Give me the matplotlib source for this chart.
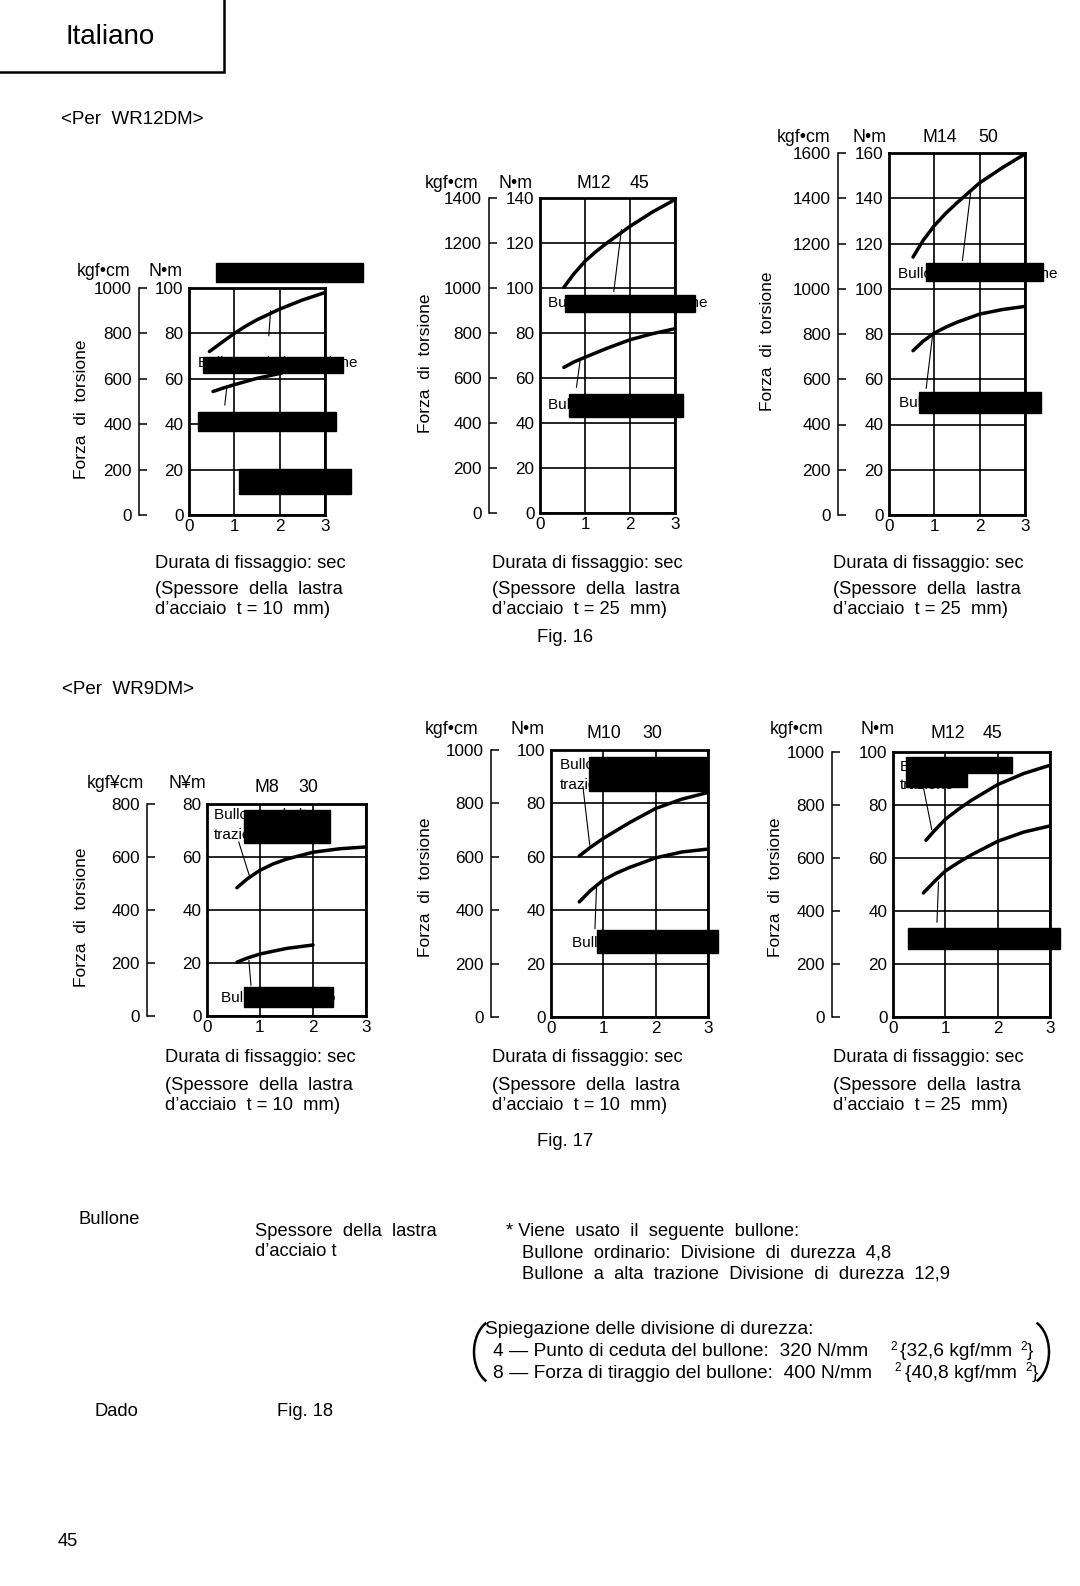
import matplotlib
matplotlib.use("Agg")
import matplotlib.pyplot as plt
from matplotlib.patches import Rectangle, Arc

plt.rcParams['font.family'] = ['Liberation Sans', 'DejaVu Sans']

W, H = 1080, 1586
FS = 13.2  # testo del manuale

# Durata di fissaggio (sec)
t_ticks = [0, 1, 2, 3]

# Fig. 16 - WR12DM, coppia in N·m
a_hi_t = [0.45, 0.75, 1, 1.25, 1.5, 2, 2.5, 3]
a_hi_nm = [72, 76.4, 80, 83.2, 86, 90.7, 94.7, 98]
a_lo_t = [0.53, 0.75, 1, 1.5, 2.04]
a_lo_nm = [54.4, 55.9, 57.4, 60.2, 62.5]

b_hi_t = [0.53, 0.75, 1, 1.25, 1.5, 2, 2.5, 3]
b_hi_nm = [100.3, 106.2, 111.9, 116.3, 120.2, 127.4, 133.8, 139.3]
b_lo_t = [0.53, 0.75, 1, 1.5, 2, 2.5, 3]
b_lo_nm = [64.7, 67.1, 69.2, 73.3, 77, 79.7, 81.9]

c_hi_t = [0.53, 0.75, 1, 1.25, 1.5, 2, 2.5, 3]
c_hi_nm = [114, 121.3, 127.9, 133.3, 138, 146.8, 153.5, 159.6]
c_lo_t = [0.53, 0.75, 1, 1.25, 1.5, 2, 2.5, 3]
c_lo_nm = [72.6, 76.8, 80.4, 83.0, 85.2, 88.8, 90.8, 92.2]

# Fig. 17 - WR9DM
d_hi_t = [0.565, 0.75, 1, 1.25, 1.5, 2, 2.5, 3]
d_hi_nm = [48.4, 51.6, 55, 57.4, 59.2, 61.8, 63.1, 63.8]
d_lo_t = [0.565, 0.75, 1, 1.5, 2]
d_lo_nm = [20.3, 21.8, 23.4, 25.5, 26.8]

e_hi_t = [0.54, 0.75, 1, 1.5, 2, 2.5, 3]
e_hi_nm = [60.3, 63.5, 66.9, 72.8, 78.1, 81.6, 84.1]
e_lo_t = [0.54, 0.75, 1, 1.25, 1.5, 2, 2.5, 3]
e_lo_nm = [43.1, 47.3, 51.3, 53.9, 56.0, 59.6, 61.8, 62.9]

f_hi_t = [0.63, 0.8, 1, 1.25, 1.5, 2, 2.5, 3]
f_hi_nm = [66.7, 70.5, 74.6, 78.4, 81.8, 87.7, 91.9, 95]
f_lo_t = [0.58, 0.8, 1, 1.25, 1.5, 2, 2.5, 3]
f_lo_nm = [46.8, 51.3, 55.1, 58.3, 61.2, 66.3, 69.8, 72.1]

y_max = [100, 140, 160, 80, 100, 100]
bolt = [None, ("M12", "45"), ("M14", "50"), ("M8", "30"), ("M10", "30"), ("M12", "45")]
unit_kgf = ["kgf•cm", "kgf•cm", "kgf•cm", "kgf¥cm", "kgf•cm", "kgf•cm"]
unit_nm = ["N•m", "N•m", "N•m", "N¥m", "N•m", "N•m"]

curves = [
    [(a_hi_t, a_hi_nm), (a_lo_t, a_lo_nm)],
    [(b_hi_t, b_hi_nm), (b_lo_t, b_lo_nm)],
    [(c_hi_t, c_hi_nm), (c_lo_t, c_lo_nm)],
    [(d_hi_t, d_hi_nm), (d_lo_t, d_lo_nm)],
    [(e_hi_t, e_hi_nm), (e_lo_t, e_lo_nm)],
    [(f_hi_t, f_hi_nm), (f_lo_t, f_lo_nm)],
]

# impaginazione in pixel: box assi, asse kgf, intestazioni, etichette
layout = [
    dict(box=(189, 288, 325, 515), spine=139, head=(271, 77, 148, None, None), forza=(82, 409),
         leaders=[((1.8, 90), (1.76, 79)), ((0.83, 55.5), (0.79, 48.5))],
         labels=[("Bullone ad alta trazione", 198, 363)],
         redact=[(216, 263, 363, 282), (203, 357, 343, 373), (198, 412, 336, 431), (239, 469, 351, 494)]),
    dict(box=(540, 198, 675, 513), spine=489, head=(183, 425, 499, 576, 630), forza=(425, 363),
         leaders=[((1.81, 126), (1.64, 98.5)), ((0.89, 67.4), (0.81, 55.9))],
         labels=[("Bullone ad alta trazione", 548, 303), ("Bullone ordinario", 548, 405)],
         redact=[(565, 295, 695, 312), (569, 394, 683, 417)]),
    dict(box=(889, 153, 1025, 515), spine=838, head=(138, 777, 852, 923, 978), forza=(767, 341),
         leaders=[((1.8, 142.3), (1.62, 112.5)), ((0.96, 79.2), (0.82, 56))],
         labels=[("Bullone ad alta trazione", 898, 274), ("Bullone ordinario", 899, 403)],
         redact=[(926, 263, 1043, 281), (919, 392, 1041, 413)]),
    dict(box=(207, 804, 366, 1016), spine=147, head=(783, 87, 168, 255, 298), forza=(82, 917),
         leaders=[((0.8, 52.9), (0.6, 65.6)), ((0.79, 20.9), (0.83, 11.6))],
         labels=[("Bullone ad alta", 214, 815), ("trazione", 214, 835), ("Bullone ordinario", 221, 998)],
         redact=[(244, 810, 330, 843), (244, 987, 333, 1007)]),
    dict(box=(551, 750, 708, 1017), spine=491, head=(729, 425, 510, 587, 642), forza=(426, 887),
         leaders=[((0.74, 64.4), (0.61, 86.3)), ((0.87, 48.8), (0.84, 33.1))],
         labels=[("Bullone ad alta", 560, 765), ("trazione", 560, 785), ("Bullone ordinario", 572, 943)],
         redact=[(589, 757, 707, 791), (597, 930, 718, 953)]),
    dict(box=(893, 752, 1050, 1017), spine=832, head=(729, 770, 860, 930, 983), forza=(775, 887),
         leaders=[((0.74, 70.8), (0.58, 86.8)), ((0.87, 50.9), (0.84, 35.8))],
         labels=[("Bullone ad alta", 900, 767), ("trazione", 900, 785)],
         redact=[(906, 757, 1012, 773), (906, 773, 967, 787), (908, 928, 1060, 949)]),
]

fig = plt.figure(figsize=(W / 100, H / 100), dpi=100)

ov = fig.add_axes([0, 0, 1, 1])
ov.set_xlim(0, W)
ov.set_ylim(H, 0)
ov.axis('off')
ov.set_zorder(10)
ov.patch.set_visible(False)

for i, lay in enumerate(layout):
    l, t, r, b = lay['box']
    ax = fig.add_axes([l / W, 1 - b / H, (r - l) / W, (b - t) / H])
    for tt, nm in curves[i]:
        ax.plot(tt, nm, color='black', lw=2.5, solid_capstyle='round', solid_joinstyle='round')
    for (x0, y0), (x1, y1) in lay['leaders']:
        ax.plot([x0, x1], [y0, y1], color='black', lw=0.8)
    ax.set_xlim(0, 3)
    ax.set_ylim(0, y_max[i])
    ax.set_xticks(t_ticks)
    ax.set_yticks(range(0, y_max[i] + 1, 20))
    ax.grid(True, color='black', lw=1.2)
    ax.set_axisbelow(True)
    for s in ax.spines.values():
        s.set_linewidth(2)
    ax.tick_params(length=0, labelsize=12.3, pad=3)
    ax.tick_params(axis='y', pad=4)

    sec = ax.secondary_yaxis((lay['spine'] - l) / (r - l),
                             functions=(lambda v: v * 10, lambda v: v / 10))
    sec.set_yticks(range(0, y_max[i] * 10 + 1, 200))
    sec.tick_params(direction='in', length=6, width=1.1, pad=5, labelsize=12.3)
    for s in sec.spines.values():
        s.set_linewidth(1.1)

    hy, kx, nx, mx, vx = lay['head']
    ov.text(kx, hy, unit_kgf[i], fontsize=12.8, va='center')
    ov.text(nx, hy, unit_nm[i], fontsize=12.8, va='center')
    if bolt[i] is not None:
        ov.text(mx, hy + (4 if i >= 3 else 0), bolt[i][0], fontsize=12.8, va='center')
        ov.text(vx, hy + (4 if i >= 3 else 0), bolt[i][1], fontsize=12.8, va='center')
    fx, fy = lay['forza']
    ov.text(fx, fy, "Forza  di  torsione", rotation=90, fontsize=12.5, ha='center', va='center')
    for s, x, y in lay['labels']:
        ov.text(x, y, s, fontsize=11, va='center', zorder=2)
    for x0, y0, x1, y1 in lay['redact']:
        ov.add_patch(Rectangle((x0, y0), x1 - x0, y1 - y0, color='black', zorder=5))

# testi sotto i grafici
sub_x = [155, 492, 833, 165, 492, 833]
sub_y = [(564, 589, 610)] * 3 + [(1058, 1085, 1106)] * 3
sub_t = ["10", "25", "25", "10", "10", "25"]
for x, (y1, y2, y3), tk in zip(sub_x, sub_y, sub_t):
    ov.text(x, y1, "Durata di fissaggio: sec", fontsize=FS, va='center')
    ov.text(x, y2, "(Spessore  della  lastra", fontsize=FS, va='center')
    ov.text(x, y3, "d’acciaio  t = " + tk + "  mm)", fontsize=FS, va='center')

ov.text(537, 637, "Fig. 16", fontsize=FS, va='center')
ov.text(537, 1142, "Fig. 17", fontsize=FS, va='center')

ov.add_patch(Rectangle((-10, -10), 234, 82, fill=False, lw=1.8, color='black'))
ov.text(110, 37, "Italiano", fontsize=20, ha='center', va='center')
ov.text(61, 120, "<Per  WR12DM>", fontsize=13.5, va='center')
ov.text(62, 690, "<Per  WR9DM>", fontsize=13.5, va='center')

ov.text(78, 1220, "Bullone", fontsize=FS, va='center')
ov.text(255, 1231, "Spessore  della  lastra", fontsize=FS, va='center')
ov.text(255, 1252, "d’acciaio t", fontsize=FS, va='center')
ov.text(95, 1412, "Dado", fontsize=FS, va='center')
ov.text(277, 1412, "Fig. 18", fontsize=FS, va='center')

ov.text(506, 1231, "* Viene  usato  il  seguente  bullone:", fontsize=FS, va='center')
ov.text(522, 1253, "Bullone  ordinario:  Divisione  di  durezza  4,8", fontsize=FS, va='center')
ov.text(522, 1274, "Bullone  a  alta  trazione  Divisione  di  durezza  12,9", fontsize=FS, va='center')

FP = 13.8
ov.text(485, 1330, "Spiegazione delle divisione di durezza:", fontsize=FP, va='center')
ov.text(493, 1352, "4 — Punto di ceduta del bullone:  320 N/mm", fontsize=FP, va='center')
ov.text(890, 1347, "2", fontsize=8.5, va='center')
ov.text(900, 1352, "{32,6 kgf/mm", fontsize=FP, va='center')
ov.text(1020, 1347, "2", fontsize=8.5, va='center')
ov.text(1027, 1352, "}", fontsize=FP, va='center')
ov.text(493, 1373, "8 — Forza di tiraggio del bullone:  400 N/mm", fontsize=FP, va='center')
ov.text(894, 1368, "2", fontsize=8.5, va='center')
ov.text(905, 1373, "{40,8 kgf/mm", fontsize=FP, va='center')
ov.text(1025, 1368, "2", fontsize=8.5, va='center')
ov.text(1032, 1373, "}", fontsize=FP, va='center')
ov.add_patch(Arc((497, 1352), 46, 66, theta1=110, theta2=250, lw=1.8, color='black'))
ov.add_patch(Arc((1026, 1352), 46, 66, theta1=-70, theta2=70, lw=1.8, color='black'))

ov.text(58, 1541, "45", fontsize=FS, va='center')

fig.savefig("out.png", dpi=100)
